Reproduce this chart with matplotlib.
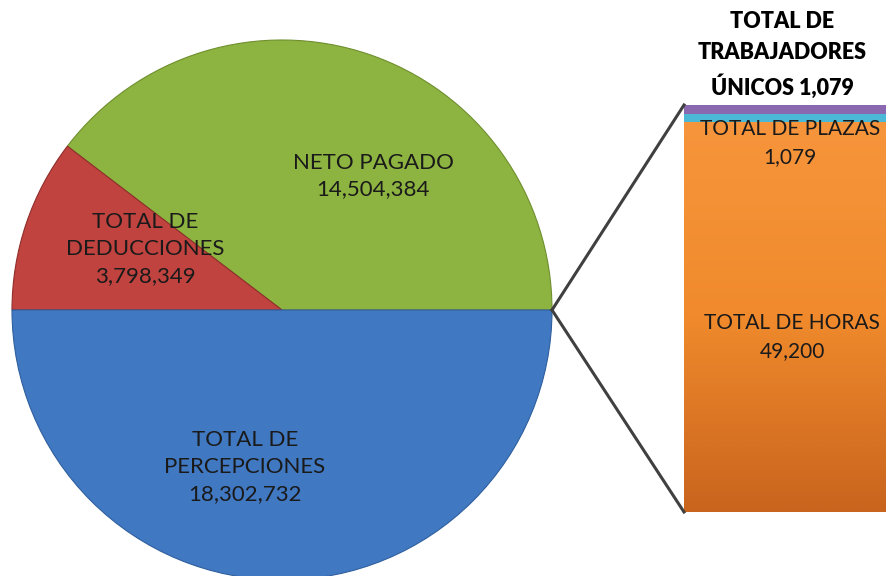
import numpy as np
import matplotlib.pyplot as plt
from matplotlib.colors import LinearSegmentedColormap

# Datos del gráfico (pastel + barra)
pie_labels = ["NETO PAGADO", "TOTAL DE\nDEDUCCIONES", "TOTAL DE\nPERCEPCIONES"]
pie_values = [14504384, 3798349, 18302732]
pie_colors = ["#8db340", "#c0433f", "#4078c2"]

bar_labels = ["TOTAL DE HORAS", "TOTAL DE PLAZAS", "TOTAL DE\nTRABAJADORES\nÚNICOS"]
bar_values = [49200, 1079, 1079]
bar_colors = ["#ee8528", "#4bb8d6", "#8a68b0"]

W, H = 887, 576
fig = plt.figure(figsize=(W / 100, H / 100), dpi=100)

# Barra apilada (eje propio, debajo del eje principal)
bx0, bx1, by0, by1 = 684, 889, H - 512, H - 105
bax = fig.add_axes([bx0 / W, by0 / H, (bx1 - bx0) / W, (by1 - by0) / H])
bax.set_zorder(1)
bottom = 0
for v, c in zip(bar_values, bar_colors):
    bax.bar(0, v, width=1.0, bottom=bottom, color=c, edgecolor="none")
    bottom += v

# degradado del segmento naranja
grad = np.linspace(0, 1, 256).reshape(-1, 1)
cmap = LinearSegmentedColormap.from_list("naranja", ["#c9641e", "#f08a2c", "#f7953c"])
img = bax.imshow(grad, extent=(-0.5, 0.5, 0, bar_values[0]), aspect="auto",
                 cmap=cmap, origin="lower", zorder=2)
img.set_clip_path(bax.patches[0])
bax.set_xlim(-0.5, 0.5)
bax.set_ylim(0, sum(bar_values))
bax.axis("off")

# Eje principal en píxeles
ax = fig.add_axes([0, 0, 1, 1])
ax.set_zorder(2)
ax.patch.set_visible(False)

cx, cy, r = 282, H - 310, 270
wedges, _ = ax.pie(pie_values, colors=pie_colors, startangle=0, counterclock=True,
                   center=(cx, cy), radius=r, frame=True,
                   wedgeprops=dict(linewidth=0.8))
for w, c in zip(wedges, ["#6f8f2e", "#8f2e2b", "#2f5f9e"]):
    w.set_edgecolor(c)
ax.set_xlim(0, W)
ax.set_ylim(0, H)
ax.set_aspect("equal")
ax.axis("off")

fmt = lambda v: f"{v:,}"
txt = dict(ha="center", va="center", fontsize=16, family="Lato", linespacing=1.42,
           color="#1a1a1a")
ax.text(373, H - 176, f"{pie_labels[0]}\n{fmt(pie_values[0])}", **txt)
ax.text(145, H - 249, f"{pie_labels[1]}\n{fmt(pie_values[1])}", **txt)
ax.text(245, H - 467, f"{pie_labels[2]}\n{fmt(pie_values[2])}", **txt)

txt_b = dict(txt, fontsize=15, linespacing=1.52)
ax.text(792, H - 337, f"{bar_labels[0]}\n{fmt(bar_values[0])}", **txt_b)
ax.text(790, H - 143, f"{bar_labels[1]}\n{fmt(bar_values[1])}", **txt_b)
ax.text(782, H - 55, f"{bar_labels[2]} {fmt(bar_values[2])}", ha="center", va="center",
        fontsize=15.5, fontweight="heavy", family="Lato", linespacing=1.55, color="black")

# Líneas de conexión
px, py = cx + r, cy
ax.plot([px, bx0], [py, by1], color="#404040", lw=2.2)
ax.plot([px, bx0], [py, by0], color="#404040", lw=2.2)

fig.savefig("out.png", dpi=100)
